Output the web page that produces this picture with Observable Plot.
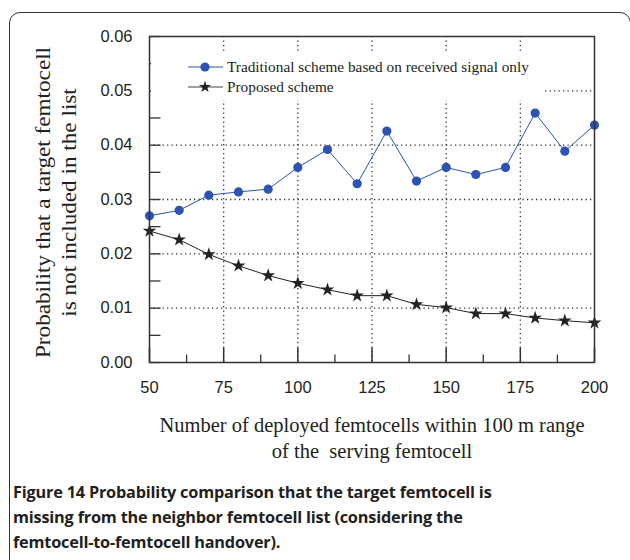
<!DOCTYPE html>
<html>
<head>
<meta charset="utf-8">
<script src="https://cdn.jsdelivr.net/npm/d3@7"></script>
<script src="https://cdn.jsdelivr.net/npm/@observablehq/plot@0.6"></script>
<style>
  html, body { margin: 0; padding: 0; background: #fff; width: 630px; height: 560px; overflow: hidden; }
  #box { position: absolute; left: 9px; top: 12px; width: 622px; height: 560px; border: 1.3px solid #333; border-radius: 11px; box-sizing: border-box; }
  #chart { position: absolute; left: 0; top: 0; }
  #legend { position: absolute; left: 151px; top: 54px; width: 392px; height: 46px; background: #fff; }
  #caption { position: absolute; left: 13px; top: 480px; width: 615px; font-family: "Open Sans", sans-serif; font-weight: 700; font-size: 16.3px; line-height: 25px; color: #231f20; letter-spacing: -0.2px; white-space: nowrap; }
</style>
</head>
<body>
<div id="box"></div>
<div id="chart"></div>
<div id="legend"></div>
<div id="caption">Figure 14 Probability comparison that the target femtocell is<br>missing from the neighbor femtocell list (considering the<br>femtocell-to-femtocell handover).</div>
<script>
const femtocells = [50, 60, 70, 80, 90, 100, 110, 120, 130, 140, 150, 160, 170, 180, 190, 200];
const traditional = [0.0270, 0.0280, 0.0308, 0.0314, 0.0319, 0.0359, 0.0392, 0.0329, 0.0426, 0.0334, 0.0359, 0.0346, 0.0359, 0.0459, 0.0389, 0.0437];
const proposed = [0.0242, 0.0226, 0.0199, 0.0178, 0.0160, 0.0146, 0.0134, 0.0123, 0.0123, 0.0107, 0.0101, 0.0090, 0.0090, 0.0082, 0.0077, 0.0073];
const seriesNames = ["Traditional scheme based on received signal only", "Proposed scheme"];
const xTickLabels = [50, 75, 100, 125, 150, 175, 200];
const xMinorTicks = [62.5, 87.5, 112.5, 137.5, 162.5, 187.5];
const xGrid = [75, 100, 125, 150, 175];
const yTickLabels = [0, 0.01, 0.02, 0.03, 0.04, 0.05, 0.06];
const yMinorTicks = [0, 0.005, 0.01, 0.015, 0.02, 0.025, 0.03, 0.035, 0.04, 0.045, 0.05, 0.055, 0.06];
const yGrid = [0.01, 0.02, 0.03, 0.04, 0.05];
const xTitle = "Number of deployed femtocells within 100 m range\nof the  serving femtocell";
const yTitle = "Probability that a target femtocell\nis not included in the list";

const blue = "#2d53b3";
const dark = "#222";
const serif = "'Liberation Serif', 'Times New Roman', serif";
const tradData = femtocells.map((x, i) => ({x, y: traditional[i]}));
const propData = femtocells.map((x, i) => ({x, y: proposed[i]}));
const dots = {stroke: "#333", strokeOpacity: 1, strokeWidth: 1.3, strokeDasharray: "1.3,3.2"};
// inward tick glyphs, used as dot symbols anchored on the frame
const tickRight = len => ({draw(context) { context.moveTo(0, 0); context.lineTo(len, 0); }});
const tickUp = len => ({draw(context) { context.moveTo(0, 0); context.lineTo(0, -len); }});

const chart = Plot.plot({
  width: 630, height: 470,
  marginLeft: 149, marginRight: 36, marginTop: 36, marginBottom: 108,
  x: {domain: [50, 200]},
  y: {domain: [0, 0.06]},
  style: {fontFamily: "'Liberation Sans', Arial, sans-serif", color: "#231f20", background: "transparent"},
  marks: [
    Plot.gridX(xGrid, dots),
    Plot.gridY(yGrid, dots),
    Plot.axisY(yTickLabels, {tickSize: 0, tickPadding: 17, tickFormat: d => d.toFixed(2), fontSize: 16.5, label: null}),
    Plot.axisX(xTickLabels, {tickSize: 0, tickPadding: 19, tickFormat: d => String(d), fontSize: 16.5, label: null}),
    Plot.dot(yMinorTicks, {y: d => d, frameAnchor: "left", symbol: tickRight(11), fill: "none", stroke: "#333", strokeWidth: 1.3}),
    Plot.dot(xTickLabels, {x: d => d, frameAnchor: "bottom", symbol: tickUp(15), fill: "none", stroke: "#333", strokeWidth: 1.5}),
    Plot.dot(xMinorTicks, {x: d => d, frameAnchor: "bottom", symbol: tickUp(8), fill: "none", stroke: "#333", strokeWidth: 1.3}),
    Plot.lineY(tradData, {x: "x", y: "y", stroke: blue, strokeWidth: 1}),
    Plot.dot(tradData, {x: "x", y: "y", r: 4.6, fill: blue, stroke: "none"}),
    Plot.lineY(propData, {x: "x", y: "y", stroke: dark, strokeWidth: 1}),
    Plot.dot(propData, {x: "x", y: "y", r: 4.3, symbol: "star", fill: dark, stroke: "none"}),
    Plot.frame({stroke: "#333", strokeWidth: 1.5}),
    Plot.text([xTitle], {frameAnchor: "bottom", dy: 74, textAnchor: "middle", lineAnchor: "middle", lineHeight: 1.25, fontSize: 20.5, fontFamily: serif, fill: "#231f20"}),
    Plot.text([yTitle], {frameAnchor: "left", textAnchor: "middle", dx: -95, dy: 3, rotate: -90, lineAnchor: "middle", lineHeight: 1.3, fontSize: 20, fontFamily: serif, fill: "#231f20"})
  ]
});
document.getElementById("chart").appendChild(chart);

// the reference y title is stretched along its length
d3.select(chart).selectAll("text").each(function() {
  if (this.textContent.startsWith("Probability")) {
    const el = this.getAttribute("transform") ? this : this.parentNode;
    el.setAttribute("transform", (el.getAttribute("transform") || "") + " scale(1.16,1)");
  }
});

// legend
const lg = d3.select("#legend").append("svg").attr("width", 392).attr("height", 46);
const rows = [
  {name: seriesNames[0], color: blue, fill: blue, symbol: d3.symbolCircle, size: Math.PI * 4.6 * 4.6, y: 13},
  {name: seriesNames[1], color: "#444", fill: dark, symbol: d3.symbolStar, size: 45, y: 33}
];
rows.forEach(r => {
  lg.append("line").attr("x1", 37).attr("x2", 72).attr("y1", r.y).attr("y2", r.y).attr("stroke", r.color).attr("stroke-width", 1.2);
  lg.append("path").attr("d", d3.symbol(r.symbol, r.size)()).attr("transform", `translate(54,${r.y})`).attr("fill", r.fill);
  lg.append("text").attr("x", 76).attr("y", r.y + 5).attr("font-family", serif).attr("font-size", 15.3).attr("fill", "#231f20").text(r.name);
});
</script>
</body>
</html>
